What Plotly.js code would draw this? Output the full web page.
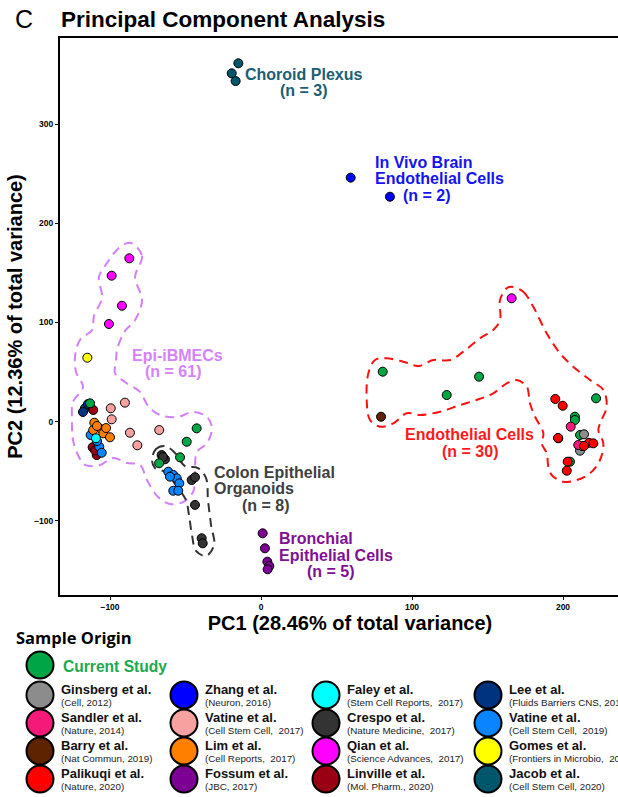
<!DOCTYPE html>
<html><head><meta charset="utf-8">
<script src="https://cdn.plot.ly/plotly-3.0.1.min.js"></script>
<style>html,body{margin:0;padding:0;overflow:hidden;background:#fff;width:618px;height:797px}#chart{width:640px;height:797px}</style>
</head><body><div id="chart"></div>
<script>
// ---------------- DATA (PC1, PC2 per sample, grouped by study) ----------------
const currentStudyX = [-113.2, -42.6, -49.2, -53.6, -67.5, 80.6, 144.4, 123.0, 221.9, 207.9, 207.9, 211.3, 204.6];
const currentStudyY = [18.5, -6.7, -20.2, -35.9, -41.9, 50.4, 45.4, 26.9, 23.6, 5.0, 1.7, -13.4, -40.3];
const ginsbergX = [213.9, 211.3, 212.6];
const ginsbergY = [-12.7, -29.2, -24.5];
const sandlerX = [205.1, 196.9, 210.1];
const sandlerY = [-5.0, -16.7, -23.5];
const barryX = [79.5];
const barryY = [5.0];
const palikuqiX = [194.9, 199.8, 196.7, 217.2, 220.1, 213.9, 203.1, 202.5];
const palikuqiY = [22.9, 16.1, -16.4, -21.3, -21.8, -24.5, -40.3, -49.4];
const zhangX = [59.4, 85.4];
const zhangY = [246.0, 226.8];
const vatine2017X = [-99.5, -90.1, -98.9, -86.8, -67.4, -81.9];
const vatine2017Y = [13.5, 19.2, 2.4, -11.1, -8.4, -23.8];
const limX = [-110.4, -105.5, -111.1, -104.4, -100.0, -108.6, -102.6];
const limY = [-1.0, -7.7, -8.4, -11.7, -15.7, -4.3, -6.4];
const fossumX = [1.1, 2.6, 4.2, 5.5, 4.4];
const fossumY = [-112.5, -127.6, -141.1, -145.5, -148.8];
const faleyX = [-109.3];
const faleyY = [-16.7];
const crespoX = [-65.8, -63.6, -64.9, -45.9, -43.7, -43.7, -39.3, -38.6];
const crespoY = [-33.6, -37.9, -35.6, -58.8, -56.0, -83.9, -117.5, -122.6];
const qianX = [-87.2, -98.9, -92.1, -100.7, 166.0];
const qianY = [164.7, 147.2, 116.9, 98.5, 124.4];
const linvilleX = [-111.1, -111.5, -108.8, -109.9];
const linvilleY = [11.8, -25.8, -33.6, -28.9];
const leeX = [-116.6, -114.6, -117.9];
const leeY = [13.5, 17.8, 9.8];
const vatine2019X = [-112.8, -107.1, -105.5, -108.6, -61.4, -58.1, -55.8, -54.1, -58.1, -54.8, -60.3];
const vatine2019Y = [-13.4, -25.2, -31.3, -19.5, -50.4, -53.7, -57.1, -62.1, -69.6, -69.6, -55.4];
const gomesX = [-115.0];
const gomesY = [64.5];
const jacobX = [-15.0, -19.4, -16.8];
const jacobY = [361.3, 351.2, 343.4];

// cluster outlines (PC1, PC2)
const epiHullX = [-86.1,-78.8,-83.4,-78.8,-83.4,-90.1,-95.4,-96.0,-96.7,-90.1,-80.1,-74.8,-66.9,-55.6,-45.0,-35.8,-32.5,-35.8,-42.4,-43.7,-43.7,-45.0,-51.7,-60.3,-68.2,-75.5,-80.1,-88.7,-98.0,-106.6,-116.6,-121.2,-124.5,-125.2,-124.5,-117.9,-122.5,-123.2,-119.9,-111.9,-110.6,-105.3,-107.3,-102.0,-93.4,-86.1];
const epiHullY = [180.1,167.0,145.9,122.7,102.5,91.4,72.3,60.2,49.1,40.0,30.0,15.8,6.8,4.7,9.8,4.7,-6.4,-21.5,-30.5,-43.6,-56.7,-70.9,-81.0,-83.0,-75.9,-58.8,-43.6,-41.6,-36.6,-43.6,-43.6,-33.6,-18.4,1.7,19.9,35.0,50.1,65.2,82.4,92.4,106.6,124.7,145.9,160.0,176.1,180.1];
const colonHullX = [-72.2,-69.5,-63.6,-57.6,-50.3,-41.7,-36.4,-35.1,-33.1,-31.1,-36.4,-43.0,-45.7,-47.7,-49.7,-55.0,-63.6,-70.2,-72.2];
const colonHullY = [-38.6,-27.5,-24.5,-30.5,-44.7,-46.7,-56.8,-78.9,-104.1,-124.3,-135.4,-130.3,-114.2,-94.1,-78.9,-66.8,-50.7,-46.7,-38.6];
const endoHullX = [166.0,173.7,180.3,189.2,198.0,206.8,217.9,226.7,228.9,225.6,223.4,226.7,224.5,217.9,209.1,200.2,192.5,190.3,189.2,185.9,187.0,181.5,178.1,176.0,169.3,162.7,153.8,142.8,131.8,118.5,105.3,96.5,87.6,78.8,72.2,70.0,71.1,75.5,83.2,94.2,104.2,114.1,125.2,134.0,145.0,153.8,158.3,158.3,162.7,166.0];
const endoHullY = [136.1,131.0,115.9,89.1,69.0,55.4,42.0,32.0,15.1,1.7,-8.4,-21.8,-38.6,-52.0,-58.8,-60.5,-53.7,-45.4,-31.9,-21.8,-11.7,5.0,18.5,35.3,42.0,38.7,28.6,21.9,16.8,10.1,6.8,8.5,-1.6,-5.0,1.7,21.9,48.8,62.2,63.9,60.5,56.1,62.2,62.2,70.6,84.1,92.4,102.5,122.7,134.5,136.1];

// legend entries
const legendNames = ["Current Study","Ginsberg et al.","Sandler et al.","Barry et al.","Palikuqi et al.","Zhang et al.","Vatine et al.","Lim et al.","Fossum et al.","Faley et al.","Crespo et al.","Qian et al.","Linville et al.","Lee et al.","Vatine et al.","Gomes et al.","Jacob et al."];
const legendCites = ["","(Cell, 2012)","(Nature, 2014)","(Nat Commun, 2019)","(Nature, 2020)","(Neuron, 2016)","(Cell Stem Cell,\u00a0 2017)","(Cell Reports,\u00a0 2017)","(JBC, 2017)","(Stem Cell Reports,\u00a0 2017)","(Nature Medicine,\u00a0 2017)","(Science Advances,\u00a0 2017)","(Mol. Pharm., 2020)","(Fluids Barriers CNS, 2019)","(Cell Stem Cell,\u00a0 2019)","(Frontiers in Microbio,\u00a0 2019)","(Cell Stem Cell, 2020)"];

// ---------------- STYLE ----------------
const COL = {
  current:'#00A545', ginsberg:'#8C8C8C', sandler:'#F5197A', barry:'#5E2300', palikuqi:'#FF0000',
  zhang:'#0000FF', vatine2017:'#F7A1A1', lim:'#FF8000', fossum:'#7D0095', faley:'#00FFFF',
  crespo:'#333333', qian:'#FF00FF', linville:'#990014', lee:'#00337F', vatine2019:'#0A84FF',
  gomes:'#FFFF00', jacob:'#00566A'
};
const legendColors = [COL.current,COL.ginsberg,COL.sandler,COL.barry,COL.palikuqi,COL.zhang,COL.vatine2017,COL.lim,COL.fossum,COL.faley,COL.crespo,COL.qian,COL.linville,COL.lee,COL.vatine2019,COL.gomes,COL.jacob];
const FONT = 'Liberation Sans, Arial, Helvetica, sans-serif';

const W=640, H=797, L=60, R=640, T=38, B=595;
const pX = p => (p-L)/(R-L);
const pY = p => (B-p)/(B-T);

const traces = [];
function hull(x,y,color){
  traces.push({x:x,y:y,type:'scatter',mode:'lines',hoverinfo:'skip',showlegend:false,
    line:{color:color,width:2,dash:'9px,6px',shape:'spline',smoothing:1}});
}
hull(epiHullX, epiHullY, '#D27FF8');
hull(colonHullX, colonHullY, '#333333');
hull(endoHullX, endoHullY, '#FF1010');

const groups = [
  [leeX,leeY,COL.lee],[linvilleX,linvilleY,COL.linville],[vatine2019X,vatine2019Y,COL.vatine2019],
  [crespoX,crespoY,COL.crespo],[currentStudyX,currentStudyY,COL.current],[limX,limY,COL.lim],[faleyX,faleyY,COL.faley],
  [vatine2017X,vatine2017Y,COL.vatine2017],[gomesX,gomesY,COL.gomes],[qianX,qianY,COL.qian],[barryX,barryY,COL.barry],
  [ginsbergX,ginsbergY,COL.ginsberg],[sandlerX,sandlerY,COL.sandler],[palikuqiX,palikuqiY,COL.palikuqi],
  [zhangX,zhangY,COL.zhang],[fossumX,fossumY,COL.fossum],[jacobX,jacobY,COL.jacob]
];
groups.forEach(g=>{
  traces.push({x:g[0],y:g[1],type:'scatter',mode:'markers',showlegend:false,
    marker:{size:9,color:g[2],line:{color:'#000',width:1}}});
});

// cluster labels (one annotation per line)
const labelLines = [
  ['Choroid Plexus',-10.6,350.2,'#1B5E73'],['(n = 3)',12.6,333.4,'#1B5E73'],
  ['In Vivo Brain',75.5,261.1,'#1414F0'],['Endothelial Cells',75.5,245.4,'#1414F0'],['(n = 2)',94.0,228.5,'#1414F0'],
  ['Epi-iBMECs',-85.6,67.2,'#D483FA'],['(n = 61)',-76.8,50.4,'#D483FA'],
  ['Endothelial Cells',95.4,-12.4,'#FF1A1A'],['(n = 30)',119.7,-30.2,'#FF1A1A'],
  ['Colon Epithelial',-31.1,-51.7,'#404040'],['Organoids',-31.1,-67.8,'#404040'],['(n = 8)',-12.8,-84.0,'#404040'],
  ['Bronchial',12.1,-118.2,'#7E1094'],['Epithelial Cells',12.1,-134.4,'#7E1094'],['(n = 5)',30.3,-151.2,'#7E1094']
];
const annotations = labelLines.map(l=>({text:'<b>'+l[0]+'</b>',x:l[1],y:l[2],xref:'x',yref:'y',xanchor:'left',yanchor:'middle',
  showarrow:false,borderpad:0,borderwidth:0,font:{family:FONT,size:16,color:l[3]}}));

// panel letter
annotations.push({text:'C',x:pX(13),y:pY(19),xref:'paper',yref:'paper',xanchor:'left',yanchor:'middle',showarrow:false,
  font:{family:FONT,size:25,color:'#000'}});
// legend heading
annotations.push({text:'<b>Sample Origin</b>',x:pX(14),y:pY(637),xref:'paper',yref:'paper',xanchor:'left',yanchor:'middle',showarrow:false,
  font:{family:'Open Sans, sans-serif',size:16.5,color:'#000'}});

const shapes = [];
const colCx = [40,184,326,488];
const rowCy = [665,695,723,751,779];
const slots = [[0,0],[0,1],[0,2],[0,3],[0,4],[1,1],[1,2],[1,3],[1,4],[2,1],[2,2],[2,3],[2,4],[3,1],[3,2],[3,3],[3,4]];
legendNames.forEach((name,i)=>{
  const cx = colCx[slots[i][0]], cy = rowCy[slots[i][1]];
  shapes.push({type:'circle',xref:'paper',yref:'paper',xsizemode:'pixel',ysizemode:'pixel',
    xanchor:pX(cx),yanchor:pY(cy),x0:-13.5,x1:13.5,y0:-13.5,y1:13.5,
    fillcolor:legendColors[i],line:{color:'#000',width:2},layer:'above'});
  if(i===0){
    annotations.push({text:'<b>'+name+'</b>',x:pX(cx+21),y:pY(cy+1),xref:'paper',yref:'paper',xanchor:'left',yanchor:'middle',
      showarrow:false,font:{family:FONT,size:15.6,color:'#1DAA4E'}});
  } else {
    annotations.push({text:'<b>'+name+'</b>',x:pX(cx+20),y:pY(cy-5.5),xref:'paper',yref:'paper',xanchor:'left',yanchor:'middle',
      showarrow:false,borderpad:0,font:{family:FONT,size:13,color:'#111'}});
    annotations.push({text:legendCites[i],x:pX(cx+20),y:pY(cy+7.5),xref:'paper',yref:'paper',xanchor:'left',yanchor:'middle',
      showarrow:false,borderpad:0,font:{family:FONT,size:9.8,color:'#222'}});
  }
});

const layout = {
  width:W,height:H,margin:{l:L,r:W-R,t:T,b:H-B},
  paper_bgcolor:'#fff',plot_bgcolor:'#fff',showlegend:false,
  title:{text:'<b>Principal Component Analysis</b>',font:{family:FONT,size:22.5,color:'#000'},
    x:61/W,xref:'container',xanchor:'left',y:1-19/H,yref:'container',yanchor:'middle'},
  xaxis:{range:[(L-261)/1.51,(R-261)/1.51],tickvals:[-100,0,100,200],showgrid:false,zeroline:false,
    showline:true,mirror:true,linecolor:'#000',linewidth:2,ticks:'outside',ticklen:3,tickwidth:1,tickcolor:'#000',
    tickfont:{family:FONT,size:8.5,color:'#000',weight:'bold'},
    title:{text:'<b>PC1 (28.46% of total variance)</b>',font:{family:FONT,size:20,color:'#000'},standoff:4}},
  yaxis:{range:[(421.7-B)/0.992,(421.7-T)/0.992],tickvals:[-100,0,100,200,300],showgrid:false,zeroline:false,
    showline:true,mirror:true,linecolor:'#000',linewidth:2,ticks:'outside',ticklen:3,tickwidth:1,tickcolor:'#000',
    tickfont:{family:FONT,size:8.5,color:'#000',weight:'bold'},
    title:{text:'<b>PC2 (12.36% of total variance)</b>',font:{family:FONT,size:20,color:'#000'},standoff:6}},
  annotations:annotations,shapes:shapes
};
Plotly.newPlot('chart',traces,layout,{staticPlot:true,displayModeBar:false});
</script></body></html>
